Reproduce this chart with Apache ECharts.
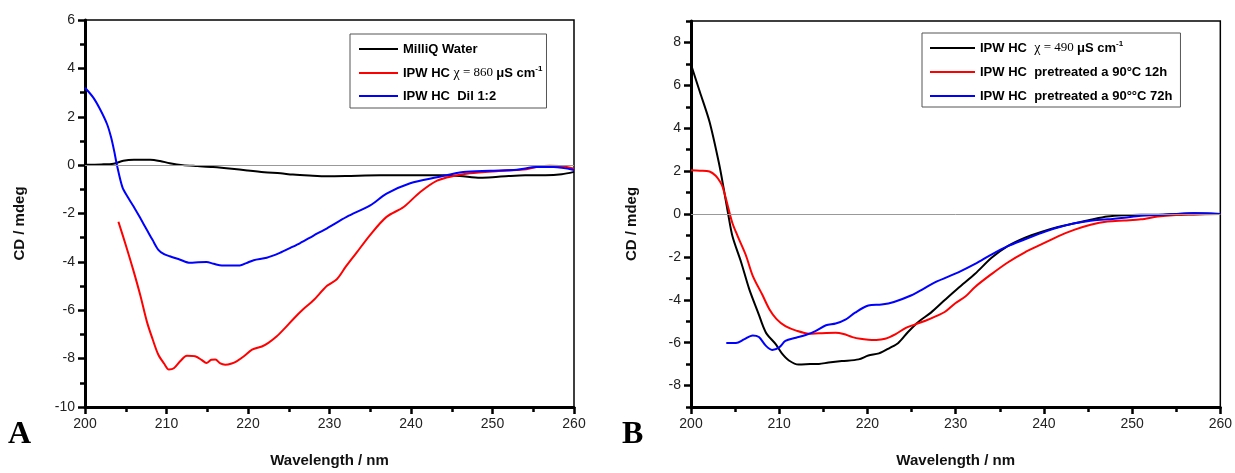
<!DOCTYPE html>
<html>
<head>
    <meta charset="utf-8">
    <title>CD spectra</title>
    <script src="https://cdn.jsdelivr.net/npm/echarts@6/dist/echarts.min.js"></script>
    <style>
        html, body { margin: 0; padding: 0; background: #fff; }
        #chart { width: 1235px; height: 473px; }
    </style>
</head>
<body>
<div id="chart"></div>
<script type="text/javascript">
    // ---- panel A: [wavelength nm, CD mdeg] ----
    var aWater = [[200,0.02],[202,0.03],[203.5,0.06],[204.7,0.18],[206,0.22],[208,0.22],[209.2,0.17],[210.4,0.08],
        [212,0.0],[213.8,-0.04],[215.7,-0.08],[218,-0.15],[219.9,-0.22],[222,-0.29],[224,-0.34],[225.5,-0.39],
        [227.5,-0.43],[229.7,-0.46],[232,-0.45],[236.2,-0.42],[240,-0.42],[244,-0.42],[246,-0.45],[248.5,-0.52],
        [250,-0.5],[252,-0.45],[254,-0.42],[256.5,-0.42],[258.5,-0.38],[260,-0.28]];
    var aRaw = [[204.1,-2.34],[205,-3.3],[205.9,-4.31],[206.8,-5.4],[207.6,-6.48],[208.3,-7.2],[209,-7.84],[209.7,-8.2],
        [210.3,-8.45],[210.9,-8.4],[211.7,-8.1],[212.5,-7.88],[213.5,-7.9],[214.3,-8.05],[214.9,-8.18],[215.5,-8.05],
        [216,-8.04],[216.6,-8.2],[217.2,-8.25],[218,-8.2],[218.6,-8.11],[219.5,-7.9],[220.5,-7.63],[221.7,-7.5],
        [222.5,-7.35],[223.5,-7.09],[224.5,-6.75],[225.6,-6.35],[226.8,-5.95],[228,-5.6],[229.7,-4.99],[230.9,-4.72],
        [232,-4.2],[233.3,-3.63],[235,-2.88],[237,-2.14],[239.1,-1.73],[241.1,-1.12],[243.2,-0.64],[245.2,-0.45],
        [247.2,-0.34],[250.5,-0.25],[253.8,-0.18],[255.4,-0.08],[257,-0.03],[258.5,-0.05],[260,-0.15]];
    var aDil = [[200,3.2],[201,2.8],[201.8,2.34],[202.7,1.7],[203.2,1.15],[203.6,0.55],[203.9,0.03],[204.6,-0.92],
        [205.3,-1.35],[206,-1.73],[206.8,-2.2],[207.6,-2.68],[208.3,-3.1],[209,-3.5],[209.7,-3.68],[210.4,-3.77],
        [211.6,-3.9],[212.9,-4.04],[213.9,-4.02],[214.9,-4.01],[215.8,-4.08],[216.8,-4.15],[218,-4.15],[219,-4.15],
        [219.8,-4.05],[220.7,-3.93],[222.3,-3.83],[223.9,-3.63],[225.2,-3.42],[226.4,-3.22],[228,-2.92],[229.7,-2.61],
        [232.1,-2.14],[235,-1.66],[237,-1.18],[239.9,-0.75],[243.2,-0.5],[246.4,-0.28],[249.7,-0.23],[253,-0.19],
        [255.4,-0.08],[257.5,-0.08],[260,-0.2]];

    // ---- panel B ----
    var bRaw = [[200,6.97],[201,5.7],[202.1,4.3],[203.2,2.31],[203.7,1.2],[204.2,0.03],[204.7,-1.04],[205.7,-2.27],
        [206.6,-3.5],[207.7,-4.7],[208.1,-5.16],[208.6,-5.6],[209.6,-6.07],[210.3,-6.5],[211.1,-6.83],[212.2,-7.02],
        [213.5,-7.0],[214.5,-6.99],[215.6,-6.93],[217.1,-6.86],[219,-6.78],[220.1,-6.6],[221.3,-6.5],[222.5,-6.25],
        [223.5,-6.01],[224.6,-5.5],[225.8,-5.02],[227.2,-4.6],[228.8,-4.0],[230.3,-3.45],[232.2,-2.79],[234.1,-2.03],
        [235.9,-1.5],[237.8,-1.12],[239.7,-0.84],[241.6,-0.61],[243.5,-0.43],[245.3,-0.27],[247.2,-0.12],[249.1,-0.06],
        [251,-0.04],[253,-0.04],[255,0.0],[257,0.03],[258.5,0.02],[260,0.0]];
    var b12h = [[200,2.04],[201,2.02],[202.1,1.98],[202.8,1.78],[203.3,1.5],[203.6,1.25],[204.2,0.33],[204.7,-0.43],
        [205.3,-1.04],[206.2,-1.9],[207,-2.88],[208.1,-3.78],[208.9,-4.45],[209.7,-4.9],[210.7,-5.23],[212,-5.45],
        [213.4,-5.58],[214.5,-5.56],[216.4,-5.54],[217.3,-5.6],[218.3,-5.74],[219.2,-5.82],[220.1,-5.86],[221,-5.87],
        [222,-5.82],[223.2,-5.6],[224.3,-5.32],[225.4,-5.15],[226.5,-4.99],[227.6,-4.8],[228.8,-4.56],[230,-4.15],
        [231.1,-3.85],[232.2,-3.4],[234.1,-2.79],[235.9,-2.26],[237.8,-1.8],[239.7,-1.42],[241.6,-1.04],[243.5,-0.73],
        [245.3,-0.5],[247.2,-0.35],[249.1,-0.3],[251,-0.25],[252.9,-0.12],[255,-0.05],[257,-0.03],[260,0.0]];
    var b72h = [[204,-6.02],[205.1,-6.02],[206,-5.85],[207,-5.66],[207.7,-5.74],[208.5,-6.15],[209.2,-6.34],[210,-6.22],
        [210.7,-5.92],[211.9,-5.77],[213,-5.64],[214.1,-5.46],[215.3,-5.19],[216.4,-5.11],[217.5,-4.93],[218.6,-4.6],
        [220.1,-4.27],[221.6,-4.22],[223,-4.1],[225,-3.79],[226.3,-3.5],[227.7,-3.18],[230.3,-2.72],[232.2,-2.33],
        [234.1,-1.88],[235.9,-1.5],[237.8,-1.19],[239.7,-0.89],[241.6,-0.63],[243.5,-0.43],[245.3,-0.31],[247.2,-0.25],
        [249.1,-0.17],[251,-0.08],[253,-0.05],[255,0.0],[257,0.03],[259,0.02],[260,0.0]];

    var bMajor = [-8, -6, -4, -2, 0, 2, 4, 6, 8];
    var bMinor = [-9, -7, -5, -3, -1, 1, 3, 5, 7, 9];

    var names = {
        aWater: 'MilliQ Water',
        aRaw: 'IPW HC χ = 860 μS cm-1',
        aDil: 'IPW HC  Dil 1:2',
        bRaw: 'IPW HC χ = 490 μS cm-1',
        b12h: 'IPW HC  pretreated a 90°C 12h',
        b72h: 'IPW HC  pretreated a 90°°C 72h'
    };
    // legend text with the chi / superscript bits
    var legendText = {};
    legendText[names.aWater] = '{b|MilliQ Water}';
    legendText[names.aRaw] = '{b|IPW HC }{g|χ}{s| = 860 }{b|μS cm}{sup|-1}';
    legendText[names.aDil] = '{b|IPW HC  Dil 1:2}';
    legendText[names.bRaw] = '{b|IPW HC  }{g|χ}{s| = 490 }{b|μS cm}{sup|-1}';
    legendText[names.b12h] = '{b|IPW HC  pretreated a 90°C 12h}';
    legendText[names.b72h] = '{b|IPW HC  pretreated a 90°°C 72h}';

    var sans = 'Liberation Sans, Arial, sans-serif';
    var richStyle = {
        b: {fontFamily: sans, fontWeight: 'bold', fontSize: 13, color: '#000'},
        g: {fontFamily: 'Liberation Serif, serif', fontWeight: 'normal', fontSize: 14, color: '#000'},
        s: {fontFamily: 'Liberation Serif, serif', fontWeight: 'normal', fontSize: 13, color: '#000'},
        sup: {fontFamily: sans, fontWeight: 'bold', fontSize: 8, color: '#000', padding: [0, 0, 8, 0]}
    };

    function xAxisFor(idx) {
        return {
            type: 'value', gridIndex: idx, min: 200, max: 260, interval: 10,
            name: 'Wavelength / nm', nameLocation: 'middle', nameGap: 46,
            nameTextStyle: {fontFamily: sans, fontWeight: 'bold', fontSize: 15, color: '#111'},
            axisLine: {onZero: false, lineStyle: {color: '#000', width: 3}},
            axisTick: {length: 7, lineStyle: {color: '#000', width: 2.5}},
            minorTick: {show: true, splitNumber: 2, length: 5, lineStyle: {color: '#000', width: 2.5}},
            axisLabel: {fontFamily: sans, fontSize: 14, color: '#222', margin: 10},
            splitLine: {show: false}
        };
    }

    function lineSeries(name, data, color, xi, yi) {
        return {
            name: name, type: 'line', data: data, xAxisIndex: xi, yAxisIndex: yi,
            symbol: 'none', smooth: 0.3, clip: true,
            lineStyle: {color: color, width: 2}, itemStyle: {color: color}
        };
    }

    var zeroLine = {
        silent: true, symbol: ['none', 'none'], label: {show: false},
        lineStyle: {color: '#999', width: 1, type: 'solid'},
        data: [{yAxis: 0}]
    };

    var option = {
        animation: false,
        backgroundColor: '#fff',
        grid: [
            {left: 85, top: 20, width: 489, height: 393, show: true, borderColor: '#000', borderWidth: 1.5},
            {left: 691, top: 21, width: 532, height: 393, show: true, borderColor: '#000', borderWidth: 1.5}
        ],
        xAxis: [xAxisFor(0), xAxisFor(1)],
        yAxis: [
            {
                type: 'value', gridIndex: 0, position: 'left', min: -10, max: 6, interval: 2,
                name: 'CD / mdeg', nameLocation: 'middle', nameGap: 58, nameRotate: 90,
                nameTextStyle: {fontFamily: sans, fontWeight: 'bold', fontSize: 15, color: '#111', padding: [0, 20, 0, 0]},
                axisLine: {lineStyle: {color: '#000', width: 3}},
                axisTick: {length: 7, lineStyle: {color: '#000', width: 2.5}},
                minorTick: {show: true, splitNumber: 2, length: 5, lineStyle: {color: '#000', width: 2.5}},
                axisLabel: {fontFamily: sans, fontSize: 14, color: '#222', margin: 10},
                splitLine: {show: false}
            },
            {
                type: 'value', gridIndex: 1, position: 'left', min: -9, max: 9, interval: 1,
                name: 'CD / mdeg', nameLocation: 'middle', nameGap: 52, nameRotate: 90,
                nameTextStyle: {fontFamily: sans, fontWeight: 'bold', fontSize: 15, color: '#111', padding: [0, 20, 0, 0]},
                axisLine: {lineStyle: {color: '#000', width: 3}},
                axisTick: {customValues: bMajor, length: 7, lineStyle: {color: '#000', width: 2.5}},
                axisLabel: {customValues: bMajor, fontFamily: sans, fontSize: 14, color: '#222', margin: 10},
                splitLine: {show: false}
            },
            {
                // odd minor ticks for panel B
                type: 'value', gridIndex: 1, position: 'left', min: -9, max: 9, interval: 1,
                axisLine: {show: false},
                axisTick: {customValues: bMinor, length: 5, lineStyle: {color: '#000', width: 2.5}},
                axisLabel: {show: false},
                splitLine: {show: false}
            }
        ],
        legend: [
            {
                left: 350, top: 34, orient: 'vertical',
                data: [names.aWater, names.aRaw, names.aDil],
                icon: 'rect', itemWidth: 39, itemHeight: 2, itemGap: 9,
                padding: [8, 4, 5, 9],
                borderColor: '#555', borderWidth: 1, backgroundColor: '#fff',
                formatter: function (n) { return legendText[n]; },
                textStyle: {fontFamily: sans, fontSize: 13, lineHeight: 14, rich: richStyle}
            },
            {
                left: 922, top: 33, orient: 'vertical',
                data: [names.bRaw, names.b12h, names.b72h],
                icon: 'rect', itemWidth: 45, itemHeight: 2, itemGap: 10,
                padding: [7, 8, 4, 8],
                borderColor: '#555', borderWidth: 1, backgroundColor: '#fff',
                formatter: function (n) { return legendText[n]; },
                textStyle: {fontFamily: sans, fontSize: 13, lineHeight: 14, rich: richStyle}
            }
        ],
        graphic: [
            {type: 'text', left: 8, top: 419, style: {text: 'A', font: 'bold 32px "Liberation Serif", serif', fill: '#000'}},
            {type: 'text', left: 622, top: 419, style: {text: 'B', font: 'bold 32px "Liberation Serif", serif', fill: '#000'}}
        ],
        series: [
            Object.assign(lineSeries(names.aWater, aWater, '#000000', 0, 0), {markLine: zeroLine}),
            lineSeries(names.aRaw, aRaw, '#ff0000', 0, 0),
            lineSeries(names.aDil, aDil, '#0000ff', 0, 0),
            Object.assign(lineSeries(names.bRaw, bRaw, '#000000', 1, 1), {markLine: zeroLine}),
            lineSeries(names.b12h, b12h, '#ff0000', 1, 1),
            lineSeries(names.b72h, b72h, '#0000ff', 1, 1)
        ]
    };

    var myChart = echarts.init(document.getElementById('chart'));
    myChart.setOption(option);
</script>
</body>
</html>
